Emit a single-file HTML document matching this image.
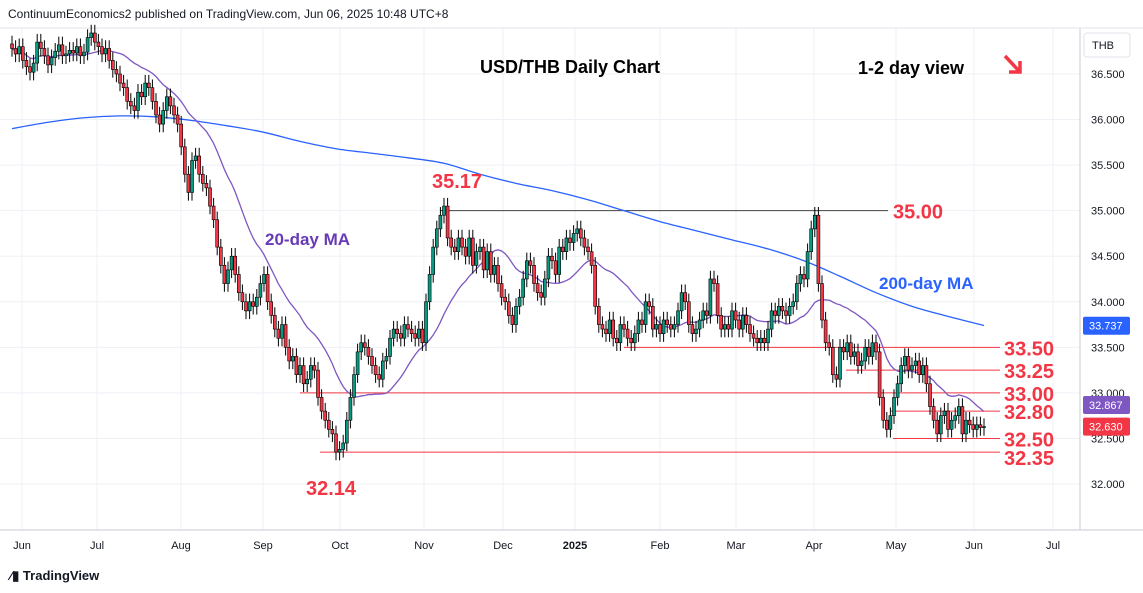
<!DOCTYPE html>
<html><head><meta charset="utf-8"><style>
body{margin:0;background:#fff;font-family:"Liberation Sans",sans-serif}
svg{display:block}
</style></head><body>
<svg id="c" width="1143" height="593" viewBox="0 0 1143 593">
<rect x="0" y="0" width="1143" height="593" fill="#fff"/>
<text x="8" y="18" font-size="12" fill="#131722">ContinuumEconomics2 published on TradingView.com, Jun 06, 2025 10:48 UTC+8</text>
<g id="grid"></g>
<line x1="1080" y1="28" x2="1080" y2="530" stroke="#c8cbd2"/>
<line x1="0" y1="530" x2="1143" y2="530" stroke="#c8cbd2"/>
<line x1="0" y1="28" x2="1143" y2="28" stroke="#e0e3eb"/>
<g id="levels"></g>
<g id="mas"></g>
<g id="candles"></g>
<g id="axis"></g>
<g id="taxis"></g>
<rect x="1084" y="33" width="46" height="24" rx="3" fill="#fff" stroke="#e0e3eb"/>
<text x="1092" y="49" font-size="11" fill="#131722">THB</text>
<text x="570" y="73" font-size="18" font-weight="bold" text-anchor="middle" fill="#000">USD/THB Daily Chart</text>
<text x="858" y="74" font-size="18" font-weight="bold" fill="#000">1-2 day view</text>
<g stroke="#f23645" stroke-width="3.5" fill="none"><line x1="1005" y1="56" x2="1019" y2="71"/><polyline points="1009,72 1020,72 1020,61"/></g>
<text x="265" y="245" font-size="17" font-weight="600" fill="#673ab7">20-day MA</text>
<text x="879" y="289" font-size="17" font-weight="600" fill="#2962ff">200-day MA</text>
<text x="432" y="188" font-size="20" font-weight="600" fill="#f23645">35.17</text>
<text x="306" y="495" font-size="20" font-weight="600" fill="#f23645">32.14</text>
<text x="10" y="580" font-size="13" font-weight="bold" fill="#131722">⁄▮ TradingView</text>
</svg>
<script>
const closes=[36.78,36.72,36.80,36.65,36.58,36.52,36.62,36.85,36.78,36.70,36.60,36.68,36.75,36.82,36.70,36.72,36.76,36.73,36.80,36.70,36.74,36.90,36.95,
36.85,36.80,36.72,36.78,36.65,36.55,36.50,36.40,36.35,36.20,36.15,36.10,36.30,36.25,36.40,36.35,36.20,36.05,35.95,36.10,36.25,36.15,36.05,
35.95,35.70,35.40,35.20,35.55,35.60,35.40,35.30,35.25,35.05,34.90,34.60,34.40,34.20,34.35,34.50,34.30,34.10,34.00,33.90,34.00,33.95,34.05,
34.20,34.30,34.00,33.85,33.70,33.60,33.75,33.50,33.35,33.40,33.20,33.30,33.10,33.15,33.30,33.25,32.95,32.80,32.70,32.60,32.55,32.35,32.38,
32.45,32.70,32.95,33.20,33.45,33.55,33.50,33.40,33.30,33.20,33.15,33.35,33.40,33.60,33.70,33.65,33.60,33.75,33.70,33.65,33.60,33.70,33.55,
34.00,34.30,34.60,34.80,34.95,35.05,34.70,34.60,34.55,34.70,34.60,34.50,34.70,34.40,34.55,34.60,34.35,34.55,34.30,34.40,34.20,34.05,34.00,
33.85,33.75,33.95,34.05,34.25,34.45,34.40,34.20,34.10,34.05,34.25,34.50,34.45,34.30,34.60,34.55,34.70,34.65,34.75,34.80,34.70,34.60,34.55,
34.40,33.95,33.75,33.70,33.65,33.80,33.60,33.55,33.75,33.70,33.60,33.55,33.65,33.80,33.75,34.00,33.95,33.70,33.75,33.65,33.80,33.75,33.70,
33.75,33.90,34.10,34.00,33.75,33.65,33.70,33.80,33.90,33.85,34.25,34.20,33.85,33.70,33.75,33.70,33.90,33.80,33.70,33.85,33.75,33.65,33.60,
33.55,33.60,33.55,33.70,33.90,33.85,33.95,33.90,33.85,33.95,34.00,34.20,34.30,34.25,34.55,34.80,34.95,34.20,33.80,33.55,33.50,33.20,33.15,
33.50,33.45,33.55,33.40,33.45,33.30,33.35,33.50,33.40,33.55,33.45,32.95,32.70,32.60,32.75,32.95,33.10,33.30,33.40,33.25,33.30,33.35,33.20,
33.30,33.10,32.85,32.70,32.55,32.75,32.80,32.60,32.70,32.75,32.85,32.55,32.70,32.65,32.60,32.65,32.62,32.63];
const ma200Idx=[0,10,20,30,40,50,60,70,80,90,100,110,120,130,140,150,160,170,180,190,200,210,220,230,240,250,260,270];
const ma200Vals=[35.90,35.97,36.02,36.04,36.03,35.99,35.93,35.86,35.76,35.68,35.63,35.58,35.52,35.40,35.30,35.22,35.12,35.00,34.88,34.78,34.68,34.58,34.45,34.28,34.10,33.95,33.84,33.74];
const priceTicks=[36.5,36.0,35.5,35.0,34.5,34.0,33.5,33.0,32.5,32.0];
const monthLabels=["Jun","Jul","Aug","Sep","Oct","Nov","Dec","2025","Feb","Mar","Apr","May","Jun","Jul"];
const monthX=[22,97,181,263,340,424,503,575,660,736,814,896,974,1053];
const levelVals=[35.00,33.50,33.25,33.00,32.80,32.50,32.35];
const levelStart=[440,624,846,300,890,893,320];
const NS="http://www.w3.org/2000/svg";
const y=p=>74+(36.5-p)*91.11;
const x0=12,x1=984;
const x=i=>x0+(x1-x0)*i/(closes.length-1);
function mk(tag,attrs,parent){const e=document.createElementNS(NS,tag);for(const k in attrs)e.setAttribute(k,attrs[k]);parent.appendChild(e);return e;}
const grid=document.getElementById('grid');
priceTicks.forEach(p=>{const l=mk('line',{x1:0,x2:1080,y1:y(p),y2:y(p),stroke:'#eef1f6'},grid);

});
monthX.forEach(mx=>{const l=mk('line',{x1:mx,x2:mx,y1:28,y2:530,stroke:'#eef1f6'},grid);

});
const ax=document.getElementById('axis');
priceTicks.forEach(p=>{const t=mk('text',{x:1091,y:y(p)+4,'font-size':11,fill:'#131722'},ax);t.textContent=p.toFixed(3);

});
const ta=document.getElementById('taxis');
monthLabels.forEach((m,i)=>{const t=mk('text',{x:monthX[i],y:549,'font-size':11,'text-anchor':'middle',fill:'#131722','font-weight':m==='2025'?'bold':'normal'},ta);t.textContent=m;

});
const lv=document.getElementById('levels');
levelVals.forEach((v,i)=>{const l=mk('line',{x1:levelStart[i],x2:i===0?888:1000,y1:y(v),y2:y(v),stroke:i===0?'#444':'#f23645','stroke-width':1},lv);


const t=mk('text',{x:i===0?893:1004,y:y(v)+(i===6?13:8),'font-size':20,'font-weight':600,fill:'#f23645'},lv);t.textContent=v.toFixed(2);

});
const ms=document.getElementById('mas');
const P=ma200Idx.map((k,i)=>[x(k),y(ma200Vals[i])]);
let d='M'+P[0][0]+','+P[0][1];
for(let i=0;i<P.length-1;i++){const p0=P[Math.max(0,i-1)],p1=P[i],p2=P[i+1],p3=P[Math.min(P.length-1,i+2)];
d+=' C'+(p1[0]+(p2[0]-p0[0])/6)+','+(p1[1]+(p2[1]-p0[1])/6)+' '+(p2[0]-(p3[0]-p1[0])/6)+','+(p2[1]-(p3[1]-p1[1])/6)+' '+p2[0]+','+p2[1];}
const m2=mk('path',{d:d,fill:'none',stroke:'#2962ff','stroke-width':1.3},ms);


let p20=[];closes.forEach((c,i)=>{const s=closes.slice(Math.max(0,i-19),i+1);p20.push(x(i)+','+y(s.reduce((a,b)=>a+b,0)/s.length));});
const m1=mk('polyline',{points:p20.join(' '),fill:'none',stroke:'#7e57c2','stroke-width':1.3},ms);


const cg=document.getElementById('candles');
closes.forEach((c,i)=>{const o=i?closes[i-1]:c+0.05;const hi=Math.max(o,c)+0.09,lo=Math.min(o,c)-0.09;const up=c>=o;
const g=mk('g',{},cg);


mk('line',{x1:x(i),x2:x(i),y1:y(hi),y2:y(lo),stroke:'#000','stroke-width':1},g);
const top=y(Math.max(o,c)),h=Math.max(1,y(Math.min(o,c))-top);
mk('rect',{x:x(i)-1.5,y:top,width:3,height:h,fill:up?'#089981':'#f23645',stroke:'#000','stroke-width':0.6},g);});
function tag(v,col,nm){const g=mk('g',{},ax);


mk('rect',{x:1083,y:y(v)-9,width:47,height:18,rx:2,fill:col},g);const t=mk('text',{x:1089,y:y(v)+4,'font-size':11,fill:'#fff'},g);t.textContent=v.toFixed(3);}
tag(33.737,'#2962ff','ma200-price-tag');
tag(32.867,'#7e57c2','ma20-price-tag');
tag(closes[closes.length-1],'#f23645','last-price-tag');
</script>
</body></html>
